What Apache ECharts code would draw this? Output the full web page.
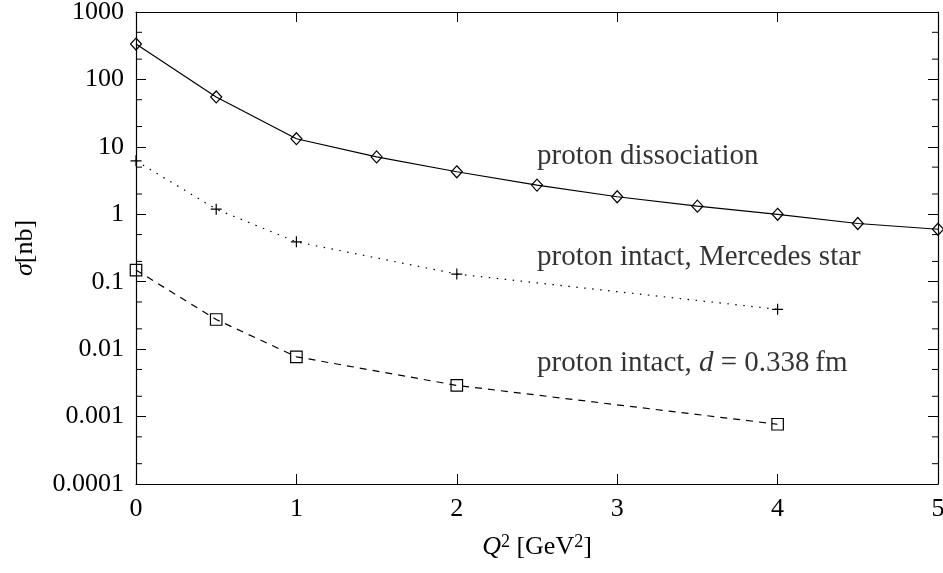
<!DOCTYPE html>
<html>
<head>
<meta charset="utf-8">
<script src="https://cdn.jsdelivr.net/npm/echarts@6/dist/echarts.min.js"></script>
<style>
  html, body { margin: 0; padding: 0; background: #fff; }
  #chart { width: 943px; height: 573px; }
</style>
</head>
<body>
<div id="chart"></div>
<script>
// Cross sections sigma [nb] versus Q^2 [GeV^2]
const dissQ2 = [0, 0.5, 1, 1.5, 2, 2.5, 3, 3.5, 4, 4.5, 5];
const dissSigma = [335, 55, 13.2, 7.1, 4.27, 2.71, 1.82, 1.32, 1.0, 0.73, 0.60];

const starQ2 = [0, 0.5, 1, 2, 4];
const starSigma = [6.2, 1.19, 0.39, 0.13, 0.039];

const intactQ2 = [0, 0.5, 1, 2, 4];
const intactSigma = [0.149, 0.0275, 0.0077, 0.0029, 0.00077];

const xTicks = [0, 1, 2, 3, 4, 5];
const yTickLabels = ['0.0001', '0.001', '0.01', '0.1', '1', '10', '100', '1000'];
const yMinorTicks = [2e-4, 5e-4, 2e-3, 5e-3, 2e-2, 5e-2, 0.2, 0.5, 2, 5, 20, 50, 200, 500];

const annotationQ2 = [2.5, 2.5, 2.5];
const annotationSigma = [7.2, 0.228, 0.0061];
const annotationText = [
  'proton dissociation',
  'proton intact, Mercedes star',
  'proton intact, {i|d} = 0.338\u2009fm'
];

const FONT = '"Liberation Serif", "DejaVu Serif", serif';
const INK = '#000';

function zip(xs, ys) { return xs.map((x, i) => [x, ys[i]]); }

const chart = echarts.init(document.getElementById('chart'), null, { renderer: 'canvas' });

const xBase = {
  type: 'value',
  min: xTicks[0],
  max: xTicks[xTicks.length - 1],
  interval: 1,
  splitLine: { show: false },
  axisLine: { show: true, onZero: false, lineStyle: { color: INK, width: 1.2 } },
  axisTick: { show: true, inside: true, length: 10, lineStyle: { color: INK, width: 1 } }
};
const yBase = {
  type: 'log',
  logBase: 10,
  min: 1e-4,
  max: 1e3,
  interval: 1,
  splitLine: { show: false },
  axisLine: { show: true, onZero: false, lineStyle: { color: INK, width: 1.2 } },
  axisTick: { show: true, inside: true, length: 10, lineStyle: { color: INK, width: 1 } }
};

const nameRich = {
  i: { fontFamily: FONT, fontSize: 26, fontStyle: 'italic', color: INK },
  sup: { fontFamily: FONT, fontSize: 18, color: INK, verticalAlign: 'top', padding: [0, 0, 10, 0] }
};

const option = {
  animation: false,
  backgroundColor: '#fff',
  textStyle: { fontFamily: FONT, color: INK },
  grid: { left: 136, right: 5, top: 12, bottom: 89, containLabel: false, outerBoundsMode: 'none' },
  xAxis: [
    Object.assign({}, xBase, {
      position: 'bottom',
      name: '{i|Q}{sup|2} [GeV{sup|2}]',
      nameLocation: 'middle',
      nameGap: 49,
      nameTextStyle: { fontFamily: FONT, fontSize: 26, color: INK, rich: nameRich },
      axisLabel: { show: true, margin: 12, fontFamily: FONT, fontSize: 26, color: INK }
    }),
    Object.assign({}, xBase, { position: 'top', axisLabel: { show: false } })
  ],
  yAxis: [
    Object.assign({}, yBase, {
      position: 'left',
      name: '{i|\u03C3}[nb]',
      nameLocation: 'middle',
      nameGap: 98,
      nameTextStyle: { fontFamily: FONT, fontSize: 26, color: INK, rich: nameRich },
      axisLabel: {
        show: true, margin: 12, fontFamily: FONT, fontSize: 26, color: INK,
        formatter: v => yTickLabels[Math.round(Math.log10(v)) + 4] || ''
      }
    }),
    Object.assign({}, yBase, { position: 'right', axisLabel: { show: false } })
  ],
  series: [
    {
      name: 'proton dissociation',
      type: 'line',
      data: zip(dissQ2, dissSigma),
      symbol: 'diamond',
      symbolSize: [11, 12],
      itemStyle: { color: 'transparent', borderColor: INK, borderWidth: 1.2 },
      lineStyle: { color: INK, width: 1.2, type: 'solid' },
      z: 3
    },
    {
      name: 'proton intact, Mercedes star',
      type: 'line',
      data: zip(starQ2, starSigma),
      symbol: 'path://M0,5H10M5,0V10',
      symbolSize: 11,
      itemStyle: { color: 'transparent', borderColor: INK, borderWidth: 1.2 },
      lineStyle: { color: INK, width: 1.2, type: [1.5, 6.5] },
      z: 3
    },
    {
      name: 'proton intact, d = 0.338 fm',
      type: 'line',
      data: zip(intactQ2, intactSigma),
      symbol: 'rect',
      symbolSize: 11.5,
      itemStyle: { color: 'transparent', borderColor: INK, borderWidth: 1.2 },
      lineStyle: { color: INK, width: 1.2, type: [7, 6] },
      z: 3
    },
    {
      // in-plot annotations for each curve
      type: 'scatter',
      symbolSize: 0,
      silent: true,
      data: annotationQ2.map((x, i) => ({
        value: [x, annotationSigma[i]],
        label: { formatter: annotationText[i] }
      })),
      label: {
        show: true,
        position: 'right',
        distance: 0,
        fontFamily: FONT,
        fontSize: 29,
        color: INK,
        rich: { i: { fontFamily: FONT, fontSize: 29, fontStyle: 'italic', color: INK } }
      },
      z: 4
    },
    {
      // minor log ticks (2 and 5 per decade) on left and right frame
      type: 'custom',
      silent: true,
      clip: false,
      data: yMinorTicks.map(v => [xTicks[0], v]),
      encode: { x: 0, y: 1 },
      renderItem: function (params, api) {
        const cs = params.coordSys;
        const y = api.coord([xTicks[0], api.value(1)])[1];
        const len = 6;
        const style = { stroke: INK, lineWidth: 1 };
        return {
          type: 'group',
          children: [
            { type: 'line', shape: { x1: cs.x, y1: y, x2: cs.x + len, y2: y }, style: style },
            { type: 'line', shape: { x1: cs.x + cs.width, y1: y, x2: cs.x + cs.width - len, y2: y }, style: style }
          ]
        };
      },
      z: 5
    }
  ]
};

chart.setOption(option);
</script>
</body>
</html>
